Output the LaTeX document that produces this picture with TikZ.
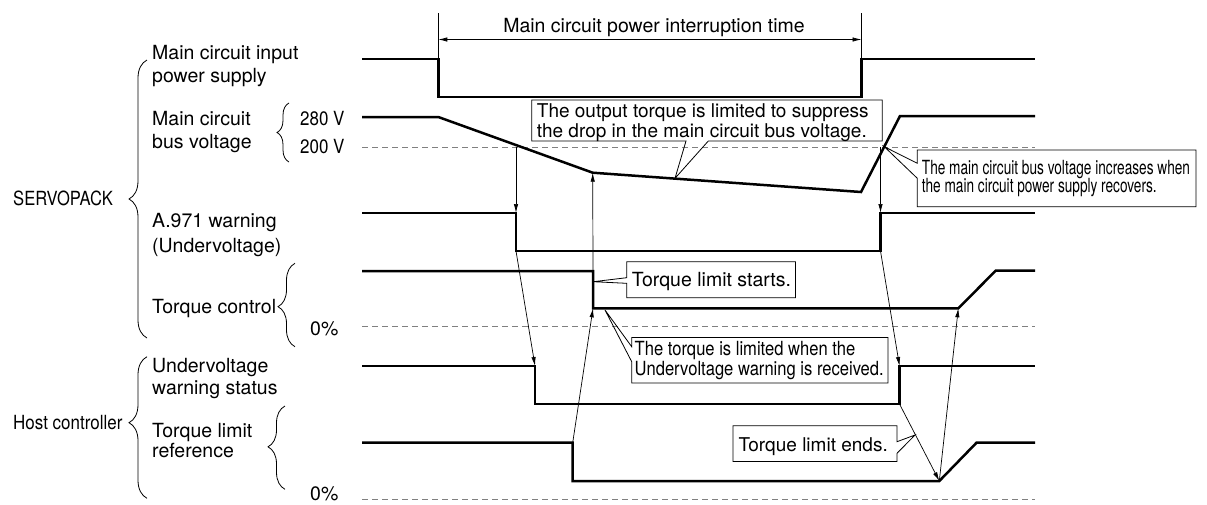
\documentclass[tikz,border=0pt]{standalone}
\usepackage{fontspec}
\setmainfont{TeX Gyre Heros}
\newfontfamily\condA[FakeStretch=0.70]{TeX Gyre Heros}
\newfontfamily\condB[FakeStretch=0.85]{TeX Gyre Heros}
\newfontfamily\condC[FakeStretch=0.87]{TeX Gyre Heros}
\usetikzlibrary{arrows.meta,decorations.pathreplacing}
\begin{document}
\begin{tikzpicture}[x=1pt,y=-1pt,
  sigline/.style={line width=2.5pt, line join=miter},
  thinline/.style={line width=0.7pt},
  tarrow/.style={line width=0.7pt, -{Latex[length=9pt,width=4.4pt]}},
  refline/.style={draw=black!50, line width=0.9pt, dash pattern=on 6pt off 4pt},
  lbl/.style={anchor=base west, inner sep=0pt, font=\fontsize{19.5}{23}\selectfont},
  callbox/.style={line width=0.8pt, line join=miter},
  brc/.style={decorate, line width=0.8pt}]
\useasboundingbox (0,0) rectangle (1207,504);

% ---------- waveform points ----------
\coordinate (p1) at (362,59);   \coordinate (p2) at (438.3,59);
\coordinate (p3) at (438.3,97); \coordinate (p4) at (861.5,97);
\coordinate (p5) at (861.5,59); \coordinate (p6) at (1035,59);

\coordinate (b1) at (362,117);   \coordinate (b2) at (438.3,117);
\coordinate (b3) at (592.7,172.7); \coordinate (b4) at (861,192);
\coordinate (b5) at (900,116);   \coordinate (b6) at (1035,116);

\coordinate (w1) at (362,213);   \coordinate (w2) at (516,213);
\coordinate (w3) at (516,251);   \coordinate (w4) at (880.5,251);
\coordinate (w5) at (880.5,213); \coordinate (w6) at (1035,213);

\coordinate (t1) at (362,271);   \coordinate (t2) at (593,271);
\coordinate (t3) at (593,308.3); \coordinate (t4) at (958.3,308.3);
\coordinate (t5) at (995.7,270.7); \coordinate (t6) at (1035,270.7);

\coordinate (s1) at (362,366);   \coordinate (s2) at (535,366);
\coordinate (s3) at (535,404);   \coordinate (s4) at (899.5,404);
\coordinate (s5) at (899.5,366); \coordinate (s6) at (1035,366);

\coordinate (r1) at (362,442.7);   \coordinate (r2) at (572.7,442.7);
\coordinate (r3) at (572.7,481);   \coordinate (r4) at (939.3,481);
\coordinate (r5) at (976.7,442.5); \coordinate (r6) at (1035,442.5);

% reference (dashed) lines
\coordinate (za) at (362,147);   \coordinate (zb) at (1035,147);
\coordinate (zc) at (362,326.7); \coordinate (zd) at (1035,326.7);
\coordinate (ze) at (362,499.3); \coordinate (zf) at (1035,499.3);
\draw[refline] (za) -- (zb);
\draw[refline] (zc) -- (zd);
\draw[refline] (ze) -- (zf);

% signals
\draw[sigline] (p1) -- (p2) -- (p3) -- (p4) -- (p5) -- (p6);
\draw[sigline] (b1) -- (b2) -- (b3) -- (b4) -- (b5) -- (b6);
\draw[sigline] (w1) -- (w2) -- (w3) -- (w4) -- (w5) -- (w6);
\draw[sigline] (t1) -- (t2) -- (t3) -- (t4) -- (t5) -- (t6);
\draw[sigline] (s1) -- (s2) -- (s3) -- (s4) -- (s5) -- (s6);
\draw[sigline] (r1) -- (r2) -- (r3) -- (r4) -- (r5) -- (r6);

% ---------- interruption time dimension ----------
\coordinate (e1) at (438.3,13);  \coordinate (e2) at (861.5,13);
\coordinate (d1) at (438.3,39.5); \coordinate (d2) at (861.5,39.5);
\draw[thinline] (e1) -- (p2);
\draw[thinline] (e2) -- (p5);
\draw[line width=0.7pt, {Latex[length=9pt,width=4.4pt]}-{Latex[length=9pt,width=4.4pt]}] (d1) -- (d2);
\node[lbl, anchor=base] (dimtxt) at (654,32.3) {Main circuit power interruption time};

% ---------- causal arrows ----------
\coordinate (v1) at (516,146.5);
\coordinate (v2) at (880.5,147);
\draw[tarrow] (v1) -- (w2);
\draw[tarrow] (v2) -- (w5);
\draw[tarrow] (t2) -- (b3);
\draw[tarrow] (w3) -- (s2);
\draw[tarrow] (r2) -- (t3);
\draw[tarrow] (w4) -- (s5);
\draw[tarrow] (s4) -- (r4);
\draw[tarrow] (r4) -- (t4);

% ---------- left labels ----------
\node[lbl] (l1) at (152,59.3) {Main circuit input};
\node[lbl] (l2) at (152,82) {power supply};
\node[lbl] (l3) at (152,125) {Main circuit};
\node[lbl] (l4) at (152,148.5) {bus voltage};
\node[lbl, font=\fontsize{19.5}{23}\condC] (v280) at (300,125.3) {280 V};
\node[lbl, font=\fontsize{19.5}{23}\condC] (v200) at (300,153.5) {200 V};
\node[lbl, font=\fontsize{19.5}{23}\condB] (sp) at (13,205.3) {SERVOPACK};
\node[lbl] (l5) at (152,227) {A.971 warning};
\node[lbl] (l6) at (152,252) {(Undervoltage)};
\node[lbl] (l7) at (152,313.7) {Torque control};
\node[lbl] (pc1) at (310,335.3) {0\%};
\node[lbl] (l8) at (152,372) {Undervoltage};
\node[lbl] (l9) at (152,394.3) {warning status};
\node[lbl, font=\fontsize{19.5}{23}\condC] (hc) at (13,429.7) {Host controller};
\node[lbl] (l10) at (152,437) {Torque limit};
\node[lbl] (l11) at (152,457.5) {reference};
\node[lbl] (pc2) at (310,500) {0\%};

% ---------- braces ----------
\coordinate (br1a) at (147,338);   \coordinate (br1b) at (147,60);
\coordinate (br2a) at (147,498.3); \coordinate (br2b) at (147,356.7);
\coordinate (br3a) at (289,162);   \coordinate (br3b) at (289,103);
\coordinate (br4a) at (295,346.7); \coordinate (br4b) at (295,263.3);
\coordinate (br5a) at (285,489.3); \coordinate (br5b) at (285,406);
\draw[brc, decoration={brace, amplitude=18pt, aspect=0.5}] (br1a) -- (br1b);
\draw[brc, decoration={brace, amplitude=18pt, aspect=0.534}] (br2a) -- (br2b);
\draw[brc, decoration={brace, amplitude=12pt, aspect=0.5}] (br3a) -- (br3b);
\draw[brc, decoration={brace, amplitude=17pt, aspect=0.48}] (br4a) -- (br4b);
\draw[brc, decoration={brace, amplitude=17pt, aspect=0.51}] (br5a) -- (br5b);

% ---------- callout 1 ----------
\coordinate (c1nw) at (531.7,100); \coordinate (c1ne) at (882.3,100);
\coordinate (c1se) at (882.3,141); \coordinate (c1sw) at (531.7,141);
\coordinate (c1q) at (708.3,141);  \coordinate (c1p) at (686,141);
\coordinate (c1tip) at (675,178.3);
\draw[callbox] (c1nw) -- (c1ne) -- (c1se) -- (c1q) -- (c1tip) -- (c1p) -- (c1sw) -- cycle;
\node[lbl, font=\fontsize{19}{23}\selectfont] (c1a) at (536.7,117.3) {The output torque is limited to suppress};
\node[lbl, font=\fontsize{19}{23}\selectfont] (c1b) at (536.7,137.7) {the drop in the main circuit bus voltage.};

% ---------- callout 2 ----------
\coordinate (c2nw) at (917.3,150); \coordinate (c2ne) at (1196,150);
\coordinate (c2se) at (1196,206.7); \coordinate (c2sw) at (917.3,206.7);
\coordinate (c2q) at (917.3,178.3); \coordinate (c2p) at (917.3,163.3);
\coordinate (c2tip) at (884.3,146.7);
\draw[callbox] (c2nw) -- (c2ne) -- (c2se) -- (c2sw) -- (c2q) -- (c2tip) -- (c2p) -- cycle;
\node[lbl, font=\fontsize{19.5}{23}\condA] (c2a) at (921.7,174) {The main circuit bus voltage increases when};
\node[lbl, font=\fontsize{19.5}{23}\condA] (c2b) at (921.7,192.7) {the main circuit power supply recovers.};

% ---------- callout 3 ----------
\coordinate (c3nw) at (626.7,261.7); \coordinate (c3ne) at (795.4,261.7);
\coordinate (c3se) at (795.4,297.7); \coordinate (c3sw) at (626.7,297.7);
\coordinate (c3q) at (626.7,283.3);  \coordinate (c3p) at (626.7,277.7);
\coordinate (c3tip) at (593.3,281.7);
\draw[callbox] (c3nw) -- (c3ne) -- (c3se) -- (c3sw) -- (c3q) -- (c3tip) -- (c3p) -- cycle;
\node[lbl] (c3a) at (631.7,286.7) {Torque limit starts.};

% ---------- callout 4 ----------
\coordinate (c4nw) at (631.7,337.5); \coordinate (c4ne) at (888,337.5);
\coordinate (c4se) at (888,383);     \coordinate (c4sw) at (631.7,383);
\coordinate (c4q) at (631.7,361.7);  \coordinate (c4p) at (631.7,346.7);
\coordinate (c4tip) at (605,310);
\draw[callbox] (c4nw) -- (c4ne) -- (c4se) -- (c4sw) -- (c4q) -- (c4tip) -- (c4p) -- cycle;
\node[lbl, font=\fontsize{19.5}{23}\condB] (c4a) at (634.5,355.3) {The torque is limited when the};
\node[lbl, font=\fontsize{19.5}{23}\condB] (c4b) at (634.5,375.5) {Undervoltage warning is received.};

% ---------- callout 5 ----------
\coordinate (c5nw) at (733,425.7);  \coordinate (c5ne) at (897,425.7);
\coordinate (c5se) at (897,461.5);  \coordinate (c5sw) at (733,461.5);
\coordinate (c5p) at (897,441.7);   \coordinate (c5q) at (897,453.3);
\coordinate (c5tip) at (915,435);
\draw[callbox] (c5nw) -- (c5ne) -- (c5p) -- (c5tip) -- (c5q) -- (c5se) -- (c5sw) -- cycle;
\node[lbl, font=\fontsize{19}{23}\selectfont] (c5a) at (738.3,451.7) {Torque limit ends.};
\end{tikzpicture}
\end{document}
